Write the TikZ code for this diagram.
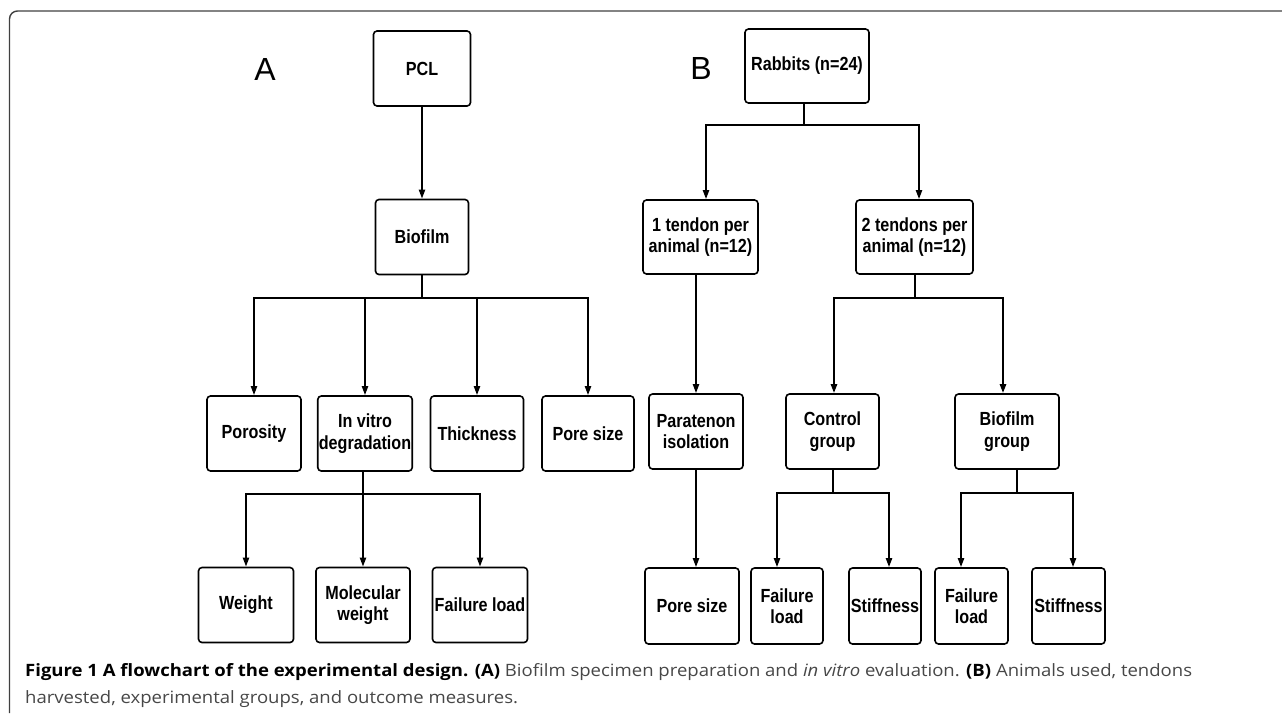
\documentclass[tikz,border=0pt]{standalone}
\usepackage{fontspec}
\setmainfont{Liberation Sans}
\newfontfamily\boxfont[FakeStretch=0.85]{Liberation Sans}
\newfontfamily\capfont[FakeStretch=1.09]{Open Sans}
\usetikzlibrary{arrows.meta}
\tikzset{
	box/.style={draw, rounded corners=3.5pt, line width=1.6pt, minimum height=75pt, inner sep=1pt, align=center, font=\boxfont\bfseries\fontsize{19}{21.5}\selectfont},
	bar/.style={line width=2.8pt, line cap=rect},
	arr/.style={line width=2pt, -{Triangle[length=9pt,width=6pt]}},
	panel/.style={font=\fontsize{32}{36}\selectfont},
	captext/.style={anchor=base west, inner sep=0pt, font=\capfont\fontsize{17}{27}\selectfont, text=black!72},
}

\begin{document}
\begin{tikzpicture}[x=1pt,y=-1pt]
			%%%%% START %%%%%
			
			\useasboundingbox (0,0) rectangle (1282,713);
			\draw[line width=1.4pt, black!75, rounded corners=8pt] (9.5,713) -- (9.5,11) -- (1282,11);
			
			\node[panel] (labA) at (265,69) {A};
			\node[panel] (labB) at (701,68) {B};
			
			% panel A
			\node[box, minimum width=97pt] (pcl) at (422,68.5) {PCL};
			\node[box, minimum width=93pt] (biofilm) at (422,237) {Biofilm};
			
			\node[box, minimum width=94pt] (porosity) at (254,433.5) {Porosity};
			\node[box, minimum width=94pt] (invitro) at (365,433.5) {In vitro\\degradation};
			\node[box, minimum width=93pt] (thick) at (477,433.5) {Thickness};
			\node[box, minimum width=92pt] (poreA) at (588,433.5) {Pore size};
			
			\node[box, minimum width=95pt] (weight) at (246,605) {Weight};
			\node[box, minimum width=94pt] (molw) at (363,605) {Molecular\\weight};
			\node[box, minimum width=95pt] (failA) at (480,605) {Failure load};
			
			\draw[arr] (pcl.south) -- (biofilm.north);
			
			\coordinate (jA) at (422,298);
			\draw[bar] (biofilm.south) -- (jA);
			\draw[bar] (porosity.north |- jA) -- (poreA.north |- jA);
			\draw[arr] (porosity.north |- jA) -- (porosity.north);
			\draw[arr] (invitro.north |- jA) -- (invitro.north);
			\draw[arr] (thick.north |- jA) -- (thick.north);
			\draw[arr] (poreA.north |- jA) -- (poreA.north);
			
			\coordinate (jV) at (363,494);
			\draw[bar] (invitro.south -| jV) -- (jV);
			\draw[bar] (weight.north |- jV) -- (failA.north |- jV);
			\draw[arr] (weight.north |- jV) -- (weight.north);
			\draw[arr] (molw.north |- jV) -- (molw.north);
			\draw[arr] (failA.north |- jV) -- (failA.north);
			
			% panel B
			\node[box, minimum width=124pt, minimum height=74pt] (rabbits) at (807,66) {Rabbits (n=24)};
			
			\node[box, minimum width=115pt, minimum height=74pt] (oneten) at (700.5,237) {1 tendon per\\animal (n=12)};
			\node[box, minimum width=117pt, minimum height=74pt] (twoten) at (914.5,237) {2 tendons per\\animal (n=12)};
			
			\node[box, minimum width=94pt] (parat) at (696,431.5) {Paratenon\\isolation};
			\node[box, minimum width=93pt] (ctrl) at (832.5,431.5) {Control\\group};
			\node[box, minimum width=104pt] (biogrp) at (1007,431.5) {Biofilm\\group};
			
			\node[box, minimum width=94pt, minimum height=76pt] (poreB) at (692,606) {Pore size};
			\node[box, minimum width=72pt, minimum height=76pt] (failB) at (787,606) {Failure\\load};
			\node[box, minimum width=72pt, minimum height=76pt] (stiffB) at (885,606) {Stiffness};
			\node[box, minimum width=73pt, minimum height=76pt] (failC) at (971.5,606) {Failure\\load};
			\node[box, minimum width=73pt, minimum height=76pt] (stiffC) at (1068.5,606) {Stiffness};
			
			\coordinate (jR) at (804,125);
			\coordinate (jR1) at (706,125);
			\coordinate (jR2) at (919,125);
			\draw[bar] (rabbits.south -| jR) -- (jR);
			\draw[bar] (jR1) -- (jR2);
			\draw[arr] (jR1) -- (jR1 |- oneten.north);
			\draw[arr] (jR2) -- (jR2 |- twoten.north);
			
			\draw[arr] (oneten.south -| parat.north) -- (parat.north);
			\draw[arr] (parat.south) -- (parat.south |- poreB.north);
			
			\coordinate (jT) at (915,298);
			\coordinate (jT1) at (834,298);
			\coordinate (jT2) at (1003,298);
			\draw[bar] (twoten.south -| jT) -- (jT);
			\draw[bar] (jT1) -- (jT2);
			\draw[arr, line width=2.4pt] (jT1) -- (jT1 |- ctrl.north);
			\draw[arr, line width=2.4pt] (jT2) -- (jT2 |- biogrp.north);
			
			\coordinate (jC) at (833,493);
			\coordinate (jC1) at (777,493);
			\coordinate (jC2) at (889,493);
			\draw[bar] (ctrl.south -| jC) -- (jC);
			\draw[bar] (jC1) -- (jC2);
			\draw[arr] (jC1) -- (jC1 |- failB.north);
			\draw[arr] (jC2) -- (jC2 |- stiffB.north);
			
			\coordinate (jG) at (1017,493);
			\coordinate (jG1) at (961,493);
			\coordinate (jG2) at (1073,493);
			\draw[bar] (biogrp.south -| jG) -- (jG);
			\draw[bar] (jG1) -- (jG2);
			\draw[arr] (jG1) -- (jG1 |- failC.north);
			\draw[arr] (jG2) -- (jG2 |- stiffC.north);
			
			% caption
			\node[captext] (cap1) at (25,676) {\textcolor{black}{\bfseries Figure 1 A flowchart of the experimental design. (A)} Biofilm specimen preparation and \textit{in vitro} evaluation. \textcolor{black}{\bfseries (B)} Animals used, tendons};
			\node[captext] (cap2) at (25,703) {harvested, experimental groups, and outcome measures.};
			
			%%%%% END %%%%%
\end{tikzpicture}
\end{document}
